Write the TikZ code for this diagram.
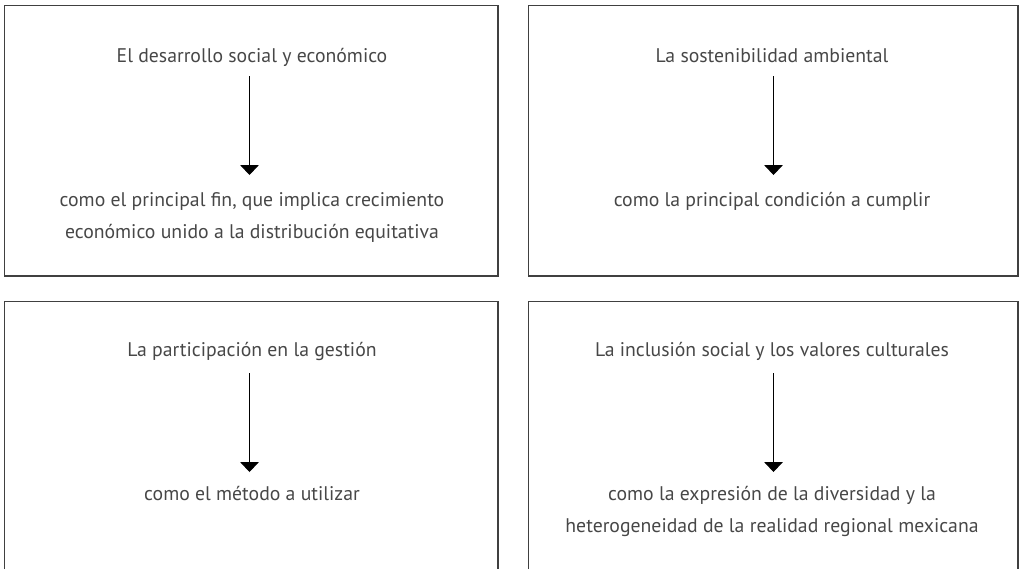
\documentclass[tikz,border=0pt]{standalone}
\usepackage{fontspec}
\setmainfont{PT Sans}
\usetikzlibrary{arrows.meta,calc}
\definecolor{boxline}{gray}{0.25}
\definecolor{txt}{gray}{0.28}
\tikzset{
  boxedge/.style={draw=boxline, line width=1.1pt},
  headtext/.style={anchor=base, inner sep=0pt, text=txt, font=\fontsize{14.8}{24}\selectfont},
  bodytext/.style={anchor=base, inner sep=0pt, text=txt, align=center, font=\fontsize{14.8}{24}\selectfont},
  flow/.style={draw=black, line width=0.8pt, -{Triangle[width=14pt,length=7.5pt]}}
}
\begin{document}
\begin{tikzpicture}[x=0.75pt,y=-0.75pt]
\useasboundingbox (0,0) rectangle (1019,569);
% boxes
\draw[boxedge] (4.5,5.5) rectangle (498,276);
\draw[boxedge] (528.5,5.5) rectangle (1018,276);
\draw[boxedge] (4.5,569) -- (4.5,301.5) -- (498,301.5) -- (498,569);
\draw[boxedge] (528.5,569) -- (528.5,301.5) -- (1018,301.5) -- (1018,569);
% top-left
\node[headtext] (h1) at (252,62) {El desarrollo social y económico};
\node[bodytext] (b1) at (252,238) {como el principal fin, que implica crecimiento\\económico unido a la distribución equitativa};
% top-right
\node[headtext] (h2) at (772,62) {La sostenibilidad ambiental};
\node[bodytext] (b2) at (772,206) {como la principal condición a cumplir};
% bottom-left
\node[headtext] (h3) at (252,356) {La participación en la gestión};
\node[bodytext] (b3) at (252,500) {como el método a utilizar};
% bottom-right
\node[headtext] (h4) at (772,356) {La inclusión social y los valores culturales};
\node[bodytext] (b4) at (772,532) {como la expresión de la diversidad y la\\heterogeneidad de la realidad regional mexicana};
% arrows
\draw[flow] ($(h1.base)+(-2.5,14)$) -- ($(h1.base)+(-2.5,113)$);
\draw[flow] ($(h2.base)+(1.5,14)$) -- ($(h2.base)+(1.5,113)$);
\draw[flow] ($(h3.base)+(-2.5,17)$) -- ($(h3.base)+(-2.5,116)$);
\draw[flow] ($(h4.base)+(1.5,17)$) -- ($(h4.base)+(1.5,116)$);
\end{tikzpicture}
\end{document}
